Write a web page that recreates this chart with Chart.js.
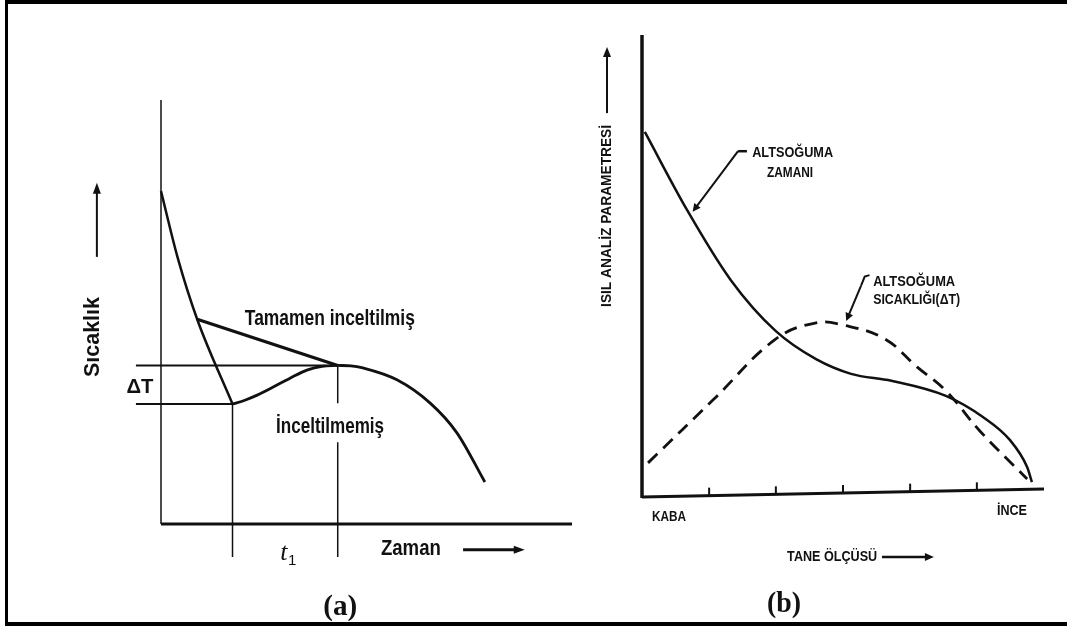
<!DOCTYPE html>
<html>
<head>
<meta charset="utf-8">
<script src="https://cdn.jsdelivr.net/npm/chart.js@4"></script>
<style>
  html, body { margin: 0; padding: 0; background: #fff; }
  #wrap { position: relative; width: 1067px; height: 626px; overflow: hidden; }
  #frame { position: absolute; left: 5px; top: 0; width: 1062px; height: 618px;
           border-top: 4px solid #000; border-left: 3px solid #000; border-bottom: 4px solid #000; box-sizing: content-box; }
  canvas { position: absolute; top: 0; }
  #cooling { left: 0; }
  #grain { left: 590px; }
</style>
</head>
<body>
<div id="wrap">
  <div id="frame"></div>
  <canvas id="cooling" width="590" height="626"></canvas>
  <canvas id="grain" width="477" height="626"></canvas>
</div>
<script>
// (a) cooling curve: time vs temperature (arbitrary units 0-100)
const coolTime = [0, 4, 8.8, 17.4];
const coolTemp = [78.5, 63, 48.3, 28.3];
const unrefTime = [17.4, 20.4, 23.4, 27.3, 31.4, 35.5, 39.2, 43];
const unrefTemp = [28.3, 29.2, 30.4, 32.3, 34.4, 36.3, 37.2, 37.4];
const refinedTime = [8.8, 43];
const refinedTemp = [48.3, 37.4];
const tailTime = [43, 46.2, 49.1, 57.4, 65.5, 72, 78.8];
const tailTemp = [37.4, 37.3, 36.8, 34.0, 28.5, 21.5, 9.9];
// undercooling minimum and recalescence end
const tMin = 17.4, TMin = 28.3;
const tEnd = 43, TEnd = 37.4;

// (b) thermal analysis parameters vs grain size (coarse -> fine)
const subTimeX = [0.7, 11.2, 22.1, 33.3, 43.3, 52, 62, 75.6, 84.8, 91.5, 95.8, 97.0];
const subTimeY = [79.1, 62.1, 46.8, 35.7, 29.6, 26.4, 24.9, 21.6, 17.0, 12.0, 6.1, 2.8];
const subTempX = [1.5, 17.9, 33.3, 43.3, 50.2, 60.4, 68.4, 75.6, 84.1, 95.8];
const subTempY = [7.0, 20.9, 34.0, 37.5, 37.0, 34.0, 27.9, 22.7, 13.9, 3.5];
const grainTicks = [16.7, 33.3, 50, 66.7, 83.3];

const INK = '#111';
const SANS = '"Liberation Sans", Arial, sans-serif';
const SERIF = '"Liberation Serif", "Times New Roman", serif';

const pts = (xs, ys) => xs.map((x, i) => ({ x: x, y: ys[i] }));

function line(extra) {
  return Object.assign({
    showLine: true, pointRadius: 0, borderColor: INK, borderWidth: 2.5,
    fill: false, clip: false, cubicInterpolationMode: 'monotone'
  }, extra);
}

function straight(extra) {
  return line(Object.assign({ cubicInterpolationMode: 'default', tension: 0 }, extra));
}

function text(ctx, str, x, y, o) {
  o = o || {};
  ctx.save();
  ctx.font = (o.weight || 'normal') + ' ' + (o.style || '') + ' ' + (o.size || 20) + 'px ' + (o.family || SANS);
  const w = ctx.measureText(str).width;
  const sx = o.width ? o.width / w : 1;
  ctx.translate(x, y);
  if (o.rotate) ctx.rotate(-Math.PI / 2);
  ctx.scale(sx, 1);
  ctx.fillStyle = INK;
  ctx.textBaseline = 'middle';
  ctx.textAlign = o.align || 'left';
  ctx.fillText(str, 0, 0);
  ctx.restore();
}

function arrow(ctx, x1, y1, x2, y2, lw, head) {
  const a = Math.atan2(y2 - y1, x2 - x1);
  const h = head || 10;
  ctx.save();
  ctx.strokeStyle = INK; ctx.fillStyle = INK; ctx.lineWidth = lw || 2;
  ctx.beginPath(); ctx.moveTo(x1, y1);
  ctx.lineTo(x2 - Math.cos(a) * h * 0.6, y2 - Math.sin(a) * h * 0.6); ctx.stroke();
  ctx.beginPath();
  ctx.moveTo(x2, y2);
  ctx.lineTo(x2 - h * Math.cos(a) + 4 * Math.sin(a), y2 - h * Math.sin(a) - 4 * Math.cos(a));
  ctx.lineTo(x2 - h * Math.cos(a) - 4 * Math.sin(a), y2 - h * Math.sin(a) + 4 * Math.cos(a));
  ctx.closePath(); ctx.fill();
  ctx.restore();
}

function stroke(ctx, path, lw) {
  ctx.save();
  ctx.strokeStyle = INK; ctx.lineWidth = lw; ctx.lineCap = 'butt';
  ctx.beginPath();
  path.forEach((p, i) => i ? ctx.lineTo(p[0], p[1]) : ctx.moveTo(p[0], p[1]));
  ctx.stroke();
  ctx.restore();
}

const hiddenScales = {
  x: { type: 'linear', display: false, min: 0, max: 100 },
  y: { type: 'linear', display: false, min: 0, max: 100 }
};

// ---- (a) Sıcaklık / Zaman ----
const coolingDecor = {
  id: 'coolingDecor',
  beforeDatasetsDraw(chart) {
    const { ctx, chartArea: a } = chart;
    stroke(ctx, [[a.left, a.top], [a.left, a.bottom]], 1.5);
    stroke(ctx, [[a.left, a.bottom], [a.right, a.bottom]], 3);
  },
  afterDatasetsDraw(chart) {
    const { ctx } = chart;
    const X = v => chart.scales.x.getPixelForValue(v);
    const Y = v => chart.scales.y.getPixelForValue(v);
    const b = { size: 22, weight: 'bold' };
    text(ctx, 'Tamamen inceltilmiş', X(20.4), Y(48.3), Object.assign({ width: 170 }, b));
    text(ctx, 'İnceltilmemiş', X(28), Y(22.9), Object.assign({ width: 108 }, b));
    text(ctx, 'ΔT', X(-8.4), Y(32.3), { size: 20, weight: 'bold', width: 27 });
    text(ctx, 'Sıcaklık', X(-16.5), Y(44.1), Object.assign({ rotate: true, align: 'center', width: 80 }, b));
    arrow(ctx, X(-15.6), Y(63), X(-15.6), Y(80.5), 2, 11);
    text(ctx, 't', X(29), Y(-6.8), { size: 26, style: 'italic', family: SERIF });
    text(ctx, '1', X(30.9), Y(-8.6), { size: 15, family: SANS });
    text(ctx, 'Zaman', X(53.5), Y(-5.9), Object.assign({ width: 60 }, b));
    arrow(ctx, X(73.5), Y(-6.1), X(88.5), Y(-6.1), 3, 11);
    text(ctx, '(a)', X(43.6), Y(-19.8), { size: 29, weight: 'bold', family: SERIF, align: 'center', width: 34 });
  }
};

new Chart(document.getElementById('cooling'), {
  type: 'scatter',
  data: {
    datasets: [
      line({ data: pts(coolTime, coolTemp), borderWidth: 2.5 }),
      line({ data: pts(unrefTime, unrefTemp), borderWidth: 2.8 }),
      straight({ data: pts(refinedTime, refinedTemp), borderWidth: 3.2 }),
      line({ data: pts(tailTime, tailTemp), borderWidth: 2.8 }),
      // ΔT reference levels
      straight({ data: [{ x: -6.1, y: TEnd }, { x: tEnd - 3, y: TEnd }], borderWidth: 2 }),
      straight({ data: [{ x: -6.1, y: TMin }, { x: tMin, y: TMin }], borderWidth: 2 }),
      // t1 interval markers
      straight({ data: [{ x: tMin, y: TMin }, { x: tMin, y: -7.8 }], borderWidth: 1.5 }),
      straight({ data: [{ x: tEnd, y: TEnd }, { x: tEnd, y: 28.5 }, { x: tEnd, y: null }, { x: tEnd, y: 19.3 }, { x: tEnd, y: -7.8 }],
                 borderWidth: 1.5, spanGaps: false })
    ]
  },
  options: {
    responsive: false, animation: false, events: [],
    layout: { padding: { left: 161, right: 18, top: 100, bottom: 102 } },
    scales: hiddenScales,
    plugins: { legend: { display: false }, tooltip: { enabled: false } }
  },
  plugins: [coolingDecor]
});

// ---- (b) Isıl analiz parametresi / Tane ölçüsü ----
const grainDecor = {
  id: 'grainDecor',
  beforeDatasetsDraw(chart) {
    const { ctx, chartArea: a } = chart;
    stroke(ctx, [[a.left, a.top - 1], [a.left, a.bottom + 3]], 3.5);
    stroke(ctx, [[a.left, a.bottom + 2], [a.right, a.bottom - 6]], 3);
    const slope = -8 / (a.right - a.left);
    grainTicks.forEach(v => {
      const px = chart.scales.x.getPixelForValue(v);
      const py = a.bottom + 2 + slope * (px - a.left);
      stroke(ctx, [[px, py], [px, py - 8]], 2);
    });
  },
  afterDatasetsDraw(chart) {
    const { ctx } = chart;
    const X = v => chart.scales.x.getPixelForValue(v);
    const Y = v => chart.scales.y.getPixelForValue(v);
    const f = { size: 15, weight: 'bold' };
    text(ctx, 'ALTSOĞUMA', X(27.4), Y(74.5), Object.assign({ width: 81 }, f));
    text(ctx, 'ZAMANI', X(31.1), Y(70.2), Object.assign({ width: 46 }, f));
    stroke(ctx, [[X(23.9), Y(74.9)], [X(26.1), Y(74.9)]], 2.5);
    arrow(ctx, X(23.9), Y(74.9), X(12.6), Y(61.7), 2, 8);
    text(ctx, 'ALTSOĞUMA', X(57.5), Y(46.4), Object.assign({ width: 82 }, f));
    text(ctx, 'SICAKLIĞI(ΔT)', X(57.5), Y(42.5), Object.assign({ width: 87 }, f));
    stroke(ctx, [[X(56.6), Y(47.9)], [X(55.4), Y(47.6)], [X(54.5), Y(45.6)]], 2);
    arrow(ctx, X(54.5), Y(45.6), X(50.8), Y(37.9), 2, 8);
    text(ctx, 'ISIL ANALİZ PARAMETRESİ', X(-8.7), Y(60.8), Object.assign({ rotate: true, align: 'center', width: 182 }, f));
    arrow(ctx, X(-8.7), Y(83.2), X(-8.7), Y(97.6), 2, 10);
    text(ctx, 'KABA', X(2.5), Y(-4.8), Object.assign({ width: 34 }, f));
    text(ctx, 'İNCE', X(88.3), Y(-3.5), Object.assign({ width: 30 }, f));
    text(ctx, 'TANE ÖLÇÜSÜ', X(36.1), Y(-13.5), Object.assign({ width: 90 }, f));
    arrow(ctx, X(59.7), Y(-13.5), X(72.6), Y(-13.5), 2.5, 9);
    text(ctx, '(b)', X(35.3), Y(-23.9), { size: 29, weight: 'bold', family: SERIF, align: 'center', width: 34 });
  }
};

new Chart(document.getElementById('grain'), {
  type: 'scatter',
  data: {
    datasets: [
      line({ label: 'Altsoğuma zamanı', data: pts(subTimeX, subTimeY), borderWidth: 2.5 }),
      line({ label: 'Altsoğuma sıcaklığı (ΔT)', data: pts(subTempX, subTempY), borderWidth: 2.8, borderDash: [13, 8],
             cubicInterpolationMode: 'default', tension: 0.4 })
    ]
  },
  options: {
    responsive: false, animation: false, events: [],
    layout: { padding: { left: 52, right: 23, top: 36, bottom: 131 } },
    scales: hiddenScales,
    plugins: { legend: { display: false }, tooltip: { enabled: false } }
  },
  plugins: [grainDecor]
});
</script>
</body>
</html>
